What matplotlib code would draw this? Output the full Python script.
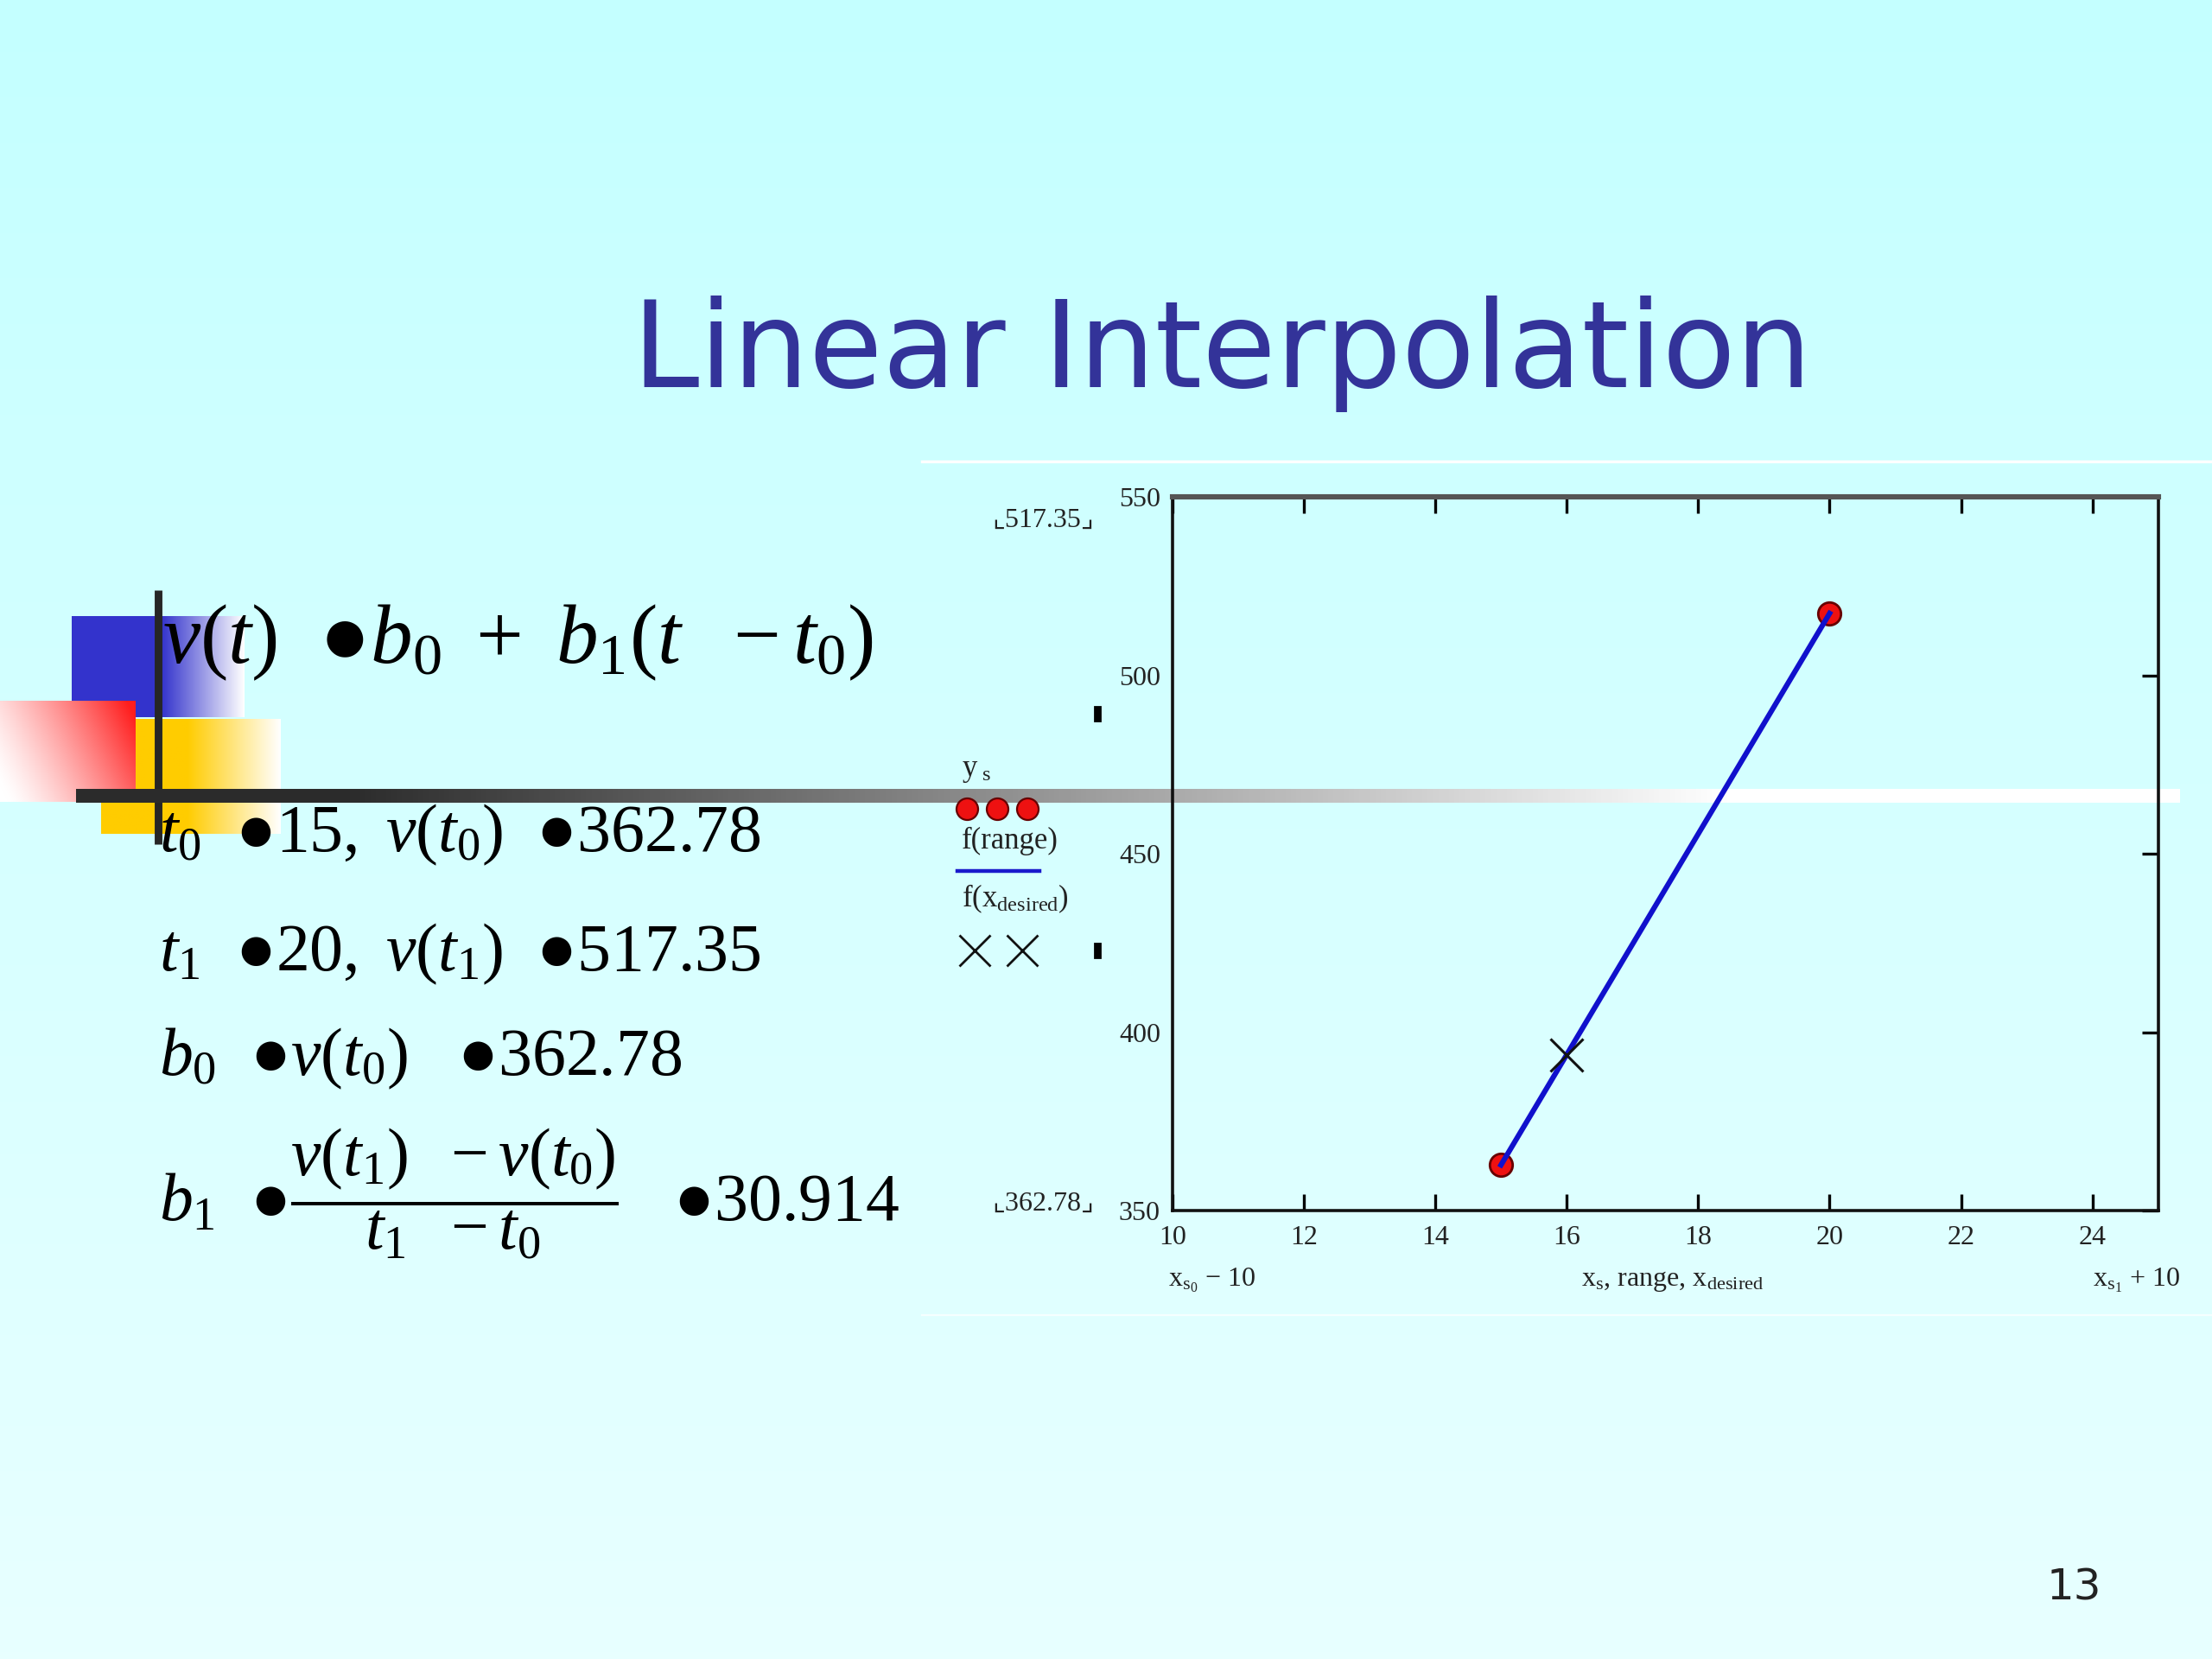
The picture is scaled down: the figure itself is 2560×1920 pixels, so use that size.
import numpy as np
import matplotlib
matplotlib.use("Agg")
import matplotlib.pyplot as plt

plt.rcParams['font.family'] = ['Liberation Serif', 'DejaVu Serif']
plt.rcParams['mathtext.fontset'] = 'custom'
plt.rcParams['mathtext.rm'] = 'Liberation Serif'
plt.rcParams['mathtext.it'] = 'Liberation Serif:italic'
plt.rcParams['mathtext.bf'] = 'Liberation Serif:bold'

# datos de la interpolacion
xs = [15, 20]
ys = [362.78, 517.35]
x_desired = [16]
y_desired = [393.69]
xticks = [10, 12, 14, 16, 18, 20, 22, 24]
yticks = [350, 400, 450, 500, 550]

W, H = 2560, 1920
fig = plt.figure(figsize=(12.8, 9.6), dpi=200)

# fondo en coordenadas de pixel
bg = fig.add_axes([0, 0, 1, 1], zorder=0)
bg.set_xlim(0, W)
bg.set_ylim(H, 0)
bg.axis('off')

top = np.array([196, 255, 255]) / 255
bot = np.array([232, 255, 255]) / 255
g = np.linspace(0, 1, 256)[:, None, None]
grad = top * (1 - g) + bot * g
grad = np.repeat(grad, 2, axis=1)
bg.imshow(grad, extent=[0, W, H, 0], aspect='auto', zorder=0)


def hgrad(color, x0, x1, xs0, y0, y1, z):
    xx = np.linspace(x0, x1, 200)
    t = np.clip((xx - xs0) / (x1 - xs0), 0, 1)
    c = np.array(color)[None, :] * (1 - t[:, None]) + np.array([1, 1, 1])[None, :] * t[:, None]
    img = np.repeat(c[None, :, :], 2, axis=0)
    bg.imshow(img, extent=[x0, x1, y1, y0], aspect='auto', zorder=z)


# cuadrados decorativos
hgrad((0.2, 0.2, 0.8), 83, 283, 187, 713, 830, 1)
hgrad((1.0, 0.8, 0.0), 117, 325, 217, 832, 965, 1)
xx = np.linspace(0, 1, 160)
yy = np.linspace(0, 1, 120)
X, Y = np.meshgrid(xx, yy)
s = np.clip(0.8 * X + 0.3 * (1 - Y) - 0.05, 0, 1) ** 1.3
red = np.array([1.0, 0.12, 0.12])
img = np.ones((120, 160, 3)) * (1 - s[..., None]) + red * s[..., None]
bg.imshow(img, extent=[0, 157, 928, 811], aspect='auto', zorder=2)

# linea vertical y barra horizontal
bg.plot([183, 183], [683, 977], color='#262626', lw=3.2, zorder=3, solid_capstyle='butt')
xb = np.linspace(88, 2523, 400)
tb = np.clip((xb - 400) / 1600, 0, 1)
cb = 0.17 * (1 - tb) + 1.0 * tb
bar = np.repeat(np.stack([cb, cb, cb], axis=1)[None, :, :], 2, axis=0)
bg.imshow(bar, extent=[88, 2523, 929, 913], aspect='auto', zorder=3)

# marco blanco del grafico
bg.plot([1067, W], [534, 534], color='white', lw=1.2, zorder=1)
bg.plot([1067, W], [1522, 1522], color='white', lw=0.8, alpha=0.7, zorder=1)

# titulo
bg.text(1414, 448, "Linear Interpolation", family='DejaVu Sans', fontsize=50,
        color='#333399', ha='center', va='baseline', zorder=5)

# ecuaciones
bg.text(188, 767, r"$v(t)\ \ ●b_0\ +\ b_1(t\ \ -t_0)$", fontsize=35,
        ha='left', va='baseline', zorder=5)
bg.text(184, 985, r"$t_0\ \ ●15,\ v(t_0)\ \ ●362.78$", fontsize=28,
        ha='left', va='baseline', zorder=5)
bg.text(184, 1123, r"$t_1\ \ ●20,\ v(t_1)\ \ ●517.35$", fontsize=28,
        ha='left', va='baseline', zorder=5)
bg.text(184, 1244, r"$b_0\ \ ●v(t_0)\ \ \ ●362.78$", fontsize=28,
        ha='left', va='baseline', zorder=5)
bg.text(184, 1412, r"$b_1\ \ ●\dfrac{v(t_1)\ \ -v(t_0)}{t_1\ \ -t_0}\ \ \ ●30.914$",
        fontsize=28, ha='left', va='baseline', zorder=5)

# etiquetas del grafico (estilo Mathcad)
fs = 11.5
fl = 12.5
bg.text(1207, 602, "⌞517.35⌟", fontsize=fs, ha='center', va='center',
        family=['Liberation Serif', 'DejaVu Sans'], color='#222222', zorder=5)
bg.text(1207, 1393, "⌞362.78⌟", fontsize=fs, ha='center', va='center',
        family=['Liberation Serif', 'DejaVu Sans'], color='#222222', zorder=5)
for yy_ in (826, 1100):
    bg.add_patch(plt.Rectangle((1267, yy_ - 8), 6, 16, color='black', zorder=5))

bg.text(1113, 892, r"y$_{\ \mathrm{s}}$", fontsize=fl, ha='left', va='center', color='#222222', zorder=5)
bg.plot([1119, 1154, 1189], [936, 936, 936], 'o', ms=9, mfc='#EE1111', mec='#660000',
        mew=0.8, zorder=6)
bg.text(1113, 973, "f(range)", fontsize=fl, ha='left', va='center', color='#222222', zorder=5)
bg.plot([1108, 1203], [1008, 1008], color='#1a1acc', lw=1.6, zorder=6)
bg.text(1113, 1040, r"f(x$_{\mathrm{desired}}$)", fontsize=fl, ha='left', va='center',
        color='#222222', zorder=5)
bg.plot([1128, 1183], [1100, 1100], 'x', ms=13, mec='#111111', mew=1.0, zorder=6)

bg.text(1352, 1488, r"x$_{\mathrm{s}_0}$ − 10", fontsize=fs, ha='left', va='baseline',
        color='#222222', zorder=5)
bg.text(1936, 1488, r"x$_{\mathrm{s}}$, range, x$_{\mathrm{desired}}$", fontsize=fs,
        ha='center', va='baseline', color='#222222', zorder=5)
bg.text(2523, 1488, r"x$_{\mathrm{s}_1}$ + 10", fontsize=fs, ha='right', va='baseline',
        color='#222222', zorder=5)

# numero de diapositiva
bg.text(2400, 1837, "13", family='DejaVu Sans', fontsize=18, color='#222222',
        ha='center', va='center', zorder=5)

# grafico
ax = fig.add_axes([0.530, 0.2703, 0.4457, 0.4302], zorder=2)
ax.patch.set_alpha(0)
ax.plot(xs, ys, 'o', ms=9.5, mfc='#EE1111', mec='#660000', mew=1.0, zorder=2)
ax.plot(xs, ys, color='#1010cc', lw=2.2, zorder=3)
ax.plot(x_desired, y_desired, 'x', ms=13.5, mec='#111111', mew=1.1, zorder=4)
ax.set_xlim(10, 25)
ax.set_ylim(350, 550)
ax.set_xticks(xticks)
ax.set_yticks(yticks)
ax.tick_params(direction='in', length=7, width=1.2, top=True, right=True,
               labelsize=fs, labelcolor='#222222')
ax.tick_params(axis='y', left=False, pad=5)
ax.tick_params(axis='x', pad=6)
for sp in ('left', 'right', 'bottom'):
    ax.spines[sp].set_linewidth(1.3)
    ax.spines[sp].set_color('#111111')
ax.spines['top'].set_linewidth(2.2)
ax.spines['top'].set_color('#555555')

fig.savefig("out.png", dpi=200)
